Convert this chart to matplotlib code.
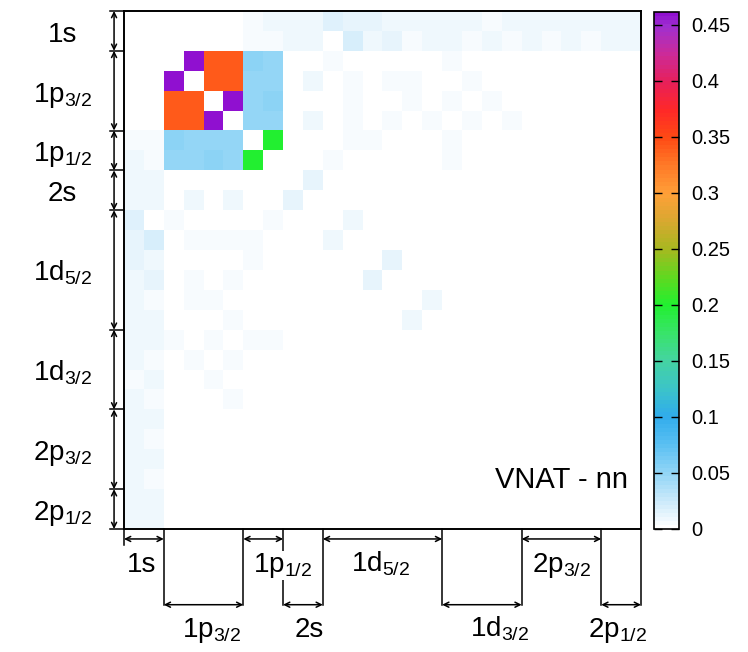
import numpy as np
import matplotlib.pyplot as plt
from matplotlib.colors import LinearSegmentedColormap, Normalize

plt.rcParams['font.family'] = ['Liberation Sans', 'DejaVu Sans']
plt.rcParams['mathtext.default'] = 'regular'

# shells and number of m-states in each
shells = ['1s', '1p$_{3/2}$', '1p$_{1/2}$', '2s', '1d$_{5/2}$', '1d$_{3/2}$', '2p$_{3/2}$', '2p$_{1/2}$']
sizes = [2, 4, 2, 2, 6, 4, 4, 2]

# upper triangle of the (symmetric) matrix: row, col, value
rows = [2, 4, 2, 2, 3, 3,
        2, 2, 3, 3, 4, 4, 5, 5, 6,
        0, 0, 0, 0, 0, 0, 0, 0, 0, 0, 0, 0, 0, 0, 0, 0, 0, 0, 0, 0, 0,
        1, 1, 1, 1, 1, 1, 1, 1, 1, 1, 1, 1, 1, 1, 1, 1, 1, 1, 1, 1,
        8, 10, 12, 14, 3, 2, 3, 3, 4, 4, 4, 4, 5, 5, 5, 5, 5, 5, 6, 6, 7, 7,
        2, 3, 2, 3, 6, 7, 6]
cols = [3, 5, 4, 5, 4, 5,
        6, 7, 6, 7, 6, 7, 6, 7, 7,
        1, 6, 7, 8, 9, 10, 11, 12, 13, 14, 15, 16, 17, 18, 19, 20, 21, 22, 23, 24, 25,
        6, 7, 8, 9, 11, 12, 13, 14, 15, 16, 17, 18, 19, 20, 21, 22, 23, 24, 25, 2,
        9, 11, 13, 15, 9, 16, 13, 17, 11, 14, 16, 18, 9, 11, 13, 15, 17, 19, 11, 16, 10, 16,
        10, 11, 12, 14, 12, 13, 14]
vals = [0.46, 0.46, 0.34, 0.34, 0.34, 0.34,
        0.052, 0.05, 0.05, 0.048, 0.05, 0.052, 0.048, 0.05, 0.2,
        0.003, 0.007, 0.008, 0.008, 0.01, 0.018, 0.014, 0.012, 0.008, 0.008, 0.01, 0.008,
        0.008, 0.007, 0.008, 0.008, 0.01, 0.008, 0.01, 0.008, 0.008,
        0.005, 0.007, 0.01, 0.008, 0.02, 0.01, 0.014, 0.007, 0.008, 0.008, 0.007, 0.008,
        0.007, 0.008, 0.007, 0.008, 0.007, 0.01, 0.008, 0.003,
        0.014, 0.01, 0.012, 0.01, 0.01, 0.005, 0.007, 0.007, 0.005, 0.004, 0.004, 0.004,
        0.01, 0.005, 0.007, 0.005, 0.007, 0.004, 0.004, 0.004, 0.004, 0.004,
        0.004, 0.004, 0.003, 0.004, 0.004, 0.003, 0.003]

cbar_ticks = [0, 0.05, 0.1, 0.15, 0.2, 0.25, 0.3, 0.35, 0.4, 0.45]
cbar_labels = ['0', '0.05', '0.1', '0.15', '0.2', '0.25', '0.3', '0.35', '0.4', '0.45']
vmax = 0.4616
panel_label = 'VNAT - nn'

n = sum(sizes)
mat = np.zeros((n, n))
for r, c, v in zip(rows, cols, vals):
    mat[r, c] = v
    mat[c, r] = v

anchors = [(0.0, '#ffffff'), (0.025, '#c8e8fa'), (0.05, '#8ed4f6'), (0.075, '#58bff2'),
           (0.1, '#30acec'), (0.125, '#3cc4c8'), (0.15, '#44d4a0'), (0.175, '#38e468'),
           (0.2, '#22f030'), (0.225, '#60d820'), (0.25, '#a8b820'), (0.275, '#d8a830'),
           (0.3, '#ffa038'), (0.325, '#ff7a28'), (0.35, '#ff4a14'), (0.375, '#ff2828'),
           (0.4, '#e82058'), (0.425, '#cc2a98'), (0.45, '#a030d0'), (vmax, '#9010d0')]
cmap = LinearSegmentedColormap.from_list('gp', [(v / vmax, c) for v, c in anchors], N=128)

W, H = 748, 652
fig = plt.figure(figsize=(W / 100, H / 100), dpi=100)
ax = fig.add_axes([124 / W, 1 - 529 / H, 517 / W, 518 / H])
im = ax.imshow(mat, cmap=cmap, norm=Normalize(0, vmax), extent=(0, n, n, 0),
               aspect='auto', interpolation='nearest')
ax.set_xticks([])
ax.set_yticks([])
for s in ax.spines.values():
    s.set_linewidth(1.4)

ax.text(25.35, 23.95, panel_label, ha='right', va='baseline', fontsize=21)

edges = np.concatenate([[0], np.cumsum(sizes)])
arrow_kw = dict(arrowstyle='<->', lw=1.1, color='black', shrinkA=0, shrinkB=0, mutation_scale=9)
line_kw = dict(color='black', lw=1.1, clip_on=False)

# left axis: arrows and separators
xa = -0.5
for e in edges:
    ax.plot([-0.7, 0], [e, e], **line_kw)
for i, lab in enumerate(shells):
    ax.annotate('', xy=(xa, edges[i + 1]), xytext=(xa, edges[i]), arrowprops=arrow_kw,
                annotation_clip=False)
    mid = (edges[i] + edges[i + 1]) / 2
    ax.text(-3.1, mid + 0.55, lab, ha='center', va='baseline', fontsize=20)

# bottom axis: two staggered levels
levels = [1, 2, 1, 2, 1, 2, 1, 2]
ylev = {1: 26.5, 2: 29.8}
ytxt = {1: 28.15, 2: 31.4}
dx = [-0.1, 0.43, 1.0, 0.33, -0.1, 0.9, 0.0, -0.17]
ax.plot([0, 0], [n, 26.8], **line_kw)
for e in edges[1:]:
    ax.plot([e, e], [n, ylev[2]], **line_kw)
for i, lab in enumerate(shells):
    y = ylev[levels[i]]
    ax.annotate('', xy=(edges[i + 1], y), xytext=(edges[i], y), arrowprops=arrow_kw,
                annotation_clip=False)
    mid = (edges[i] + edges[i + 1]) / 2
    ax.text(mid + dx[i], ytxt[levels[i]], lab, ha='center', va='baseline', fontsize=20,
            bbox=dict(facecolor='white', edgecolor='none', pad=0), zorder=5)

ax.set_xlim(0, n)
ax.set_ylim(n, 0)

cax = fig.add_axes([654 / W, 1 - 529 / H, 25 / W, 517 / H])
cb = fig.colorbar(im, cax=cax, ticks=cbar_ticks)
cb.ax.set_yticklabels(cbar_labels)
cb.outline.set_linewidth(1.2)
cax.tick_params(direction='in', left=True, right=True, length=6, width=1, labelsize=14.5, pad=9)

fig.savefig('out.png', dpi=100)
